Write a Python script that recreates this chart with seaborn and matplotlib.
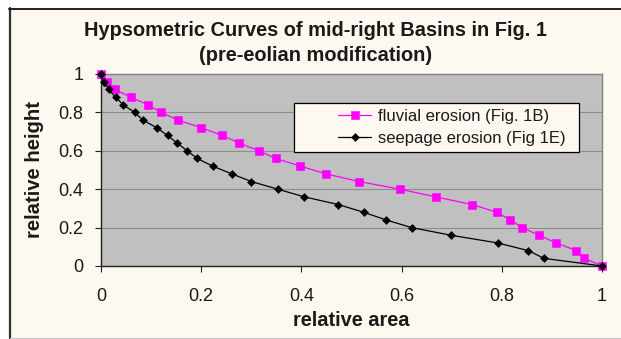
import numpy as np
import pandas as pd
import matplotlib
matplotlib.use("Agg")
import matplotlib.pyplot as plt
from matplotlib.patches import Rectangle
from matplotlib.lines import Line2D
import seaborn as sns

# Hypsometric curve samples (relative area vs. relative height)
fluvial_area = [0.000, 0.011, 0.027, 0.059, 0.093, 0.120, 0.154, 0.200, 0.242,
                0.276, 0.315, 0.349, 0.398, 0.449, 0.515, 0.597, 0.668, 0.741,
                0.790, 0.817, 0.841, 0.874, 0.909, 0.949, 0.965, 1.000]
fluvial_height = [1.00, 0.96, 0.92, 0.88, 0.84, 0.80, 0.76, 0.72, 0.68, 0.64,
                  0.60, 0.56, 0.52, 0.48, 0.44, 0.40, 0.36, 0.32, 0.28, 0.24,
                  0.20, 0.16, 0.12, 0.08, 0.04, 0.00]

seepage_area = [0.000, 0.006, 0.015, 0.029, 0.044, 0.067, 0.084, 0.111, 0.133,
                0.152, 0.172, 0.192, 0.223, 0.261, 0.300, 0.353, 0.406, 0.474,
                0.524, 0.569, 0.620, 0.699, 0.792, 0.853, 0.884, 1.000]
seepage_height = [1.00, 0.96, 0.92, 0.88, 0.84, 0.80, 0.76, 0.72, 0.68, 0.64,
                  0.60, 0.56, 0.52, 0.48, 0.44, 0.40, 0.36, 0.32, 0.28, 0.24,
                  0.20, 0.16, 0.12, 0.08, 0.04, 0.00]

series_labels = ["fluvial erosion (Fig. 1B)", "seepage erosion (Fig 1E)"]
x_ticks = [0, 0.2, 0.4, 0.6, 0.8, 1]
x_tick_labels = ["0", "0.2", "0.4", "0.6", "0.8", "1"]
y_ticks = [0, 0.2, 0.4, 0.6, 0.8, 1]
y_tick_labels = ["0", "0.2", "0.4", "0.6", "0.8", "1"]
title_lines = ["Hypsometric Curves of mid-right Basins in Fig. 1",
               "(pre-eolian modification)"]

sns.set_theme(style="white")
plt.rcParams["font.family"] = ["Liberation Sans", "DejaVu Sans"]

W, H = 621, 339
fig = plt.figure(figsize=(W / 100, H / 100), dpi=100)
fig.patch.set_facecolor("white")

CREAM = "#FDF8F0"
INK = "#1A1A1A"

def fx(px):
    return px / W

def fy(py):
    return 1 - py / H

# chart area panel with dark top/left edges
fig.patches.append(Rectangle((fx(10), fy(338)), fx(W - 10), (328) / H,
                             transform=fig.transFigure, facecolor=CREAM,
                             edgecolor="none", zorder=-2))
fig.lines.append(Line2D([fx(9.5), fx(9.5)], [fy(8), fy(339)], transform=fig.transFigure,
                        color="#303030", lw=1.6, zorder=-1))
fig.lines.append(Line2D([fx(9), 1], [fy(8.5), fy(8.5)], transform=fig.transFigure,
                        color="#202020", lw=1.4, zorder=-1))
fig.lines.append(Line2D([fx(10), 1], [fy(338), fy(338)], transform=fig.transFigure,
                        color="#C8C8C8", lw=1.0, zorder=-1))

# plot area
x0, x1, y0, y1 = 101, 602, 74, 266
ax = fig.add_axes([fx(x0), fy(y1), (x1 - x0) / W, (y1 - y0) / H])
ax.set_zorder(1)
ax.set_facecolor("#C0C0C0")

df_f = pd.DataFrame({"area": fluvial_area, "height": fluvial_height})
df_s = pd.DataFrame({"area": seepage_area, "height": seepage_height})

sns.lineplot(data=df_f, x="area", y="height", sort=False, estimator=None, ax=ax,
             color="#FF00FF", lw=0.9, marker="s", markersize=6.0,
             markeredgecolor="#FF00FF", markeredgewidth=0.4,
             label=series_labels[0], zorder=3, clip_on=False)
sns.lineplot(data=df_s, x="area", y="height", sort=False, estimator=None, ax=ax,
             color="black", lw=0.9, marker="D", markersize=4.0,
             markeredgecolor="black", markeredgewidth=0.4,
             label=series_labels[1], zorder=4, clip_on=False)

ax.set_xlim(0, 1)
ax.set_ylim(0, 1)
ax.set_xticks(x_ticks)
ax.set_xticklabels(x_tick_labels)
ax.set_yticks(y_ticks)
ax.set_yticklabels(y_tick_labels)
ax.set_xlabel("")
ax.set_ylabel("")

for yv in y_ticks[1:-1]:
    ax.axhline(yv, color="#8C8C8C", lw=0.8, zorder=1)

for side in ["top", "right"]:
    ax.spines[side].set_color("#808080")
    ax.spines[side].set_linewidth(1.0)
for side in ["left", "bottom"]:
    ax.spines[side].set_color("#202020")
    ax.spines[side].set_linewidth(1.0)

ax.tick_params(axis="both", which="major", direction="out", length=4.5, width=0.8,
               color="#202020", labelsize=13, labelcolor=INK,
               left=True, bottom=True)
ax.tick_params(axis="y", pad=8.0)
ax.tick_params(axis="x", pad=11.0)

# legend box and entries
fig.patches.append(Rectangle((fx(294), fy(152)), (579 - 294) / W, (152 - 103) / H,
                             transform=fig.transFigure, facecolor=CREAM,
                             edgecolor="black", lw=0.9, zorder=5))
ax.get_legend().remove()
handles, labels = ax.get_legend_handles_labels()
leg = fig.legend(handles, labels, loc="upper left",
                 bbox_to_anchor=(fx(338), fy(108.5)), frameon=False,
                 fontsize=12, handlelength=2.0, handletextpad=0.4,
                 labelspacing=0.45, borderpad=0, borderaxespad=0)
leg.set_zorder(6)
for t in leg.get_texts():
    t.set_color(INK)

# titles and axis labels
fig.text(fx(315.5), fy(31), title_lines[0], ha="center", va="center",
         fontsize=14.4, fontweight="bold", color=INK)
fig.text(fx(316), fy(55.5), title_lines[1], ha="center", va="center",
         fontsize=14.4, fontweight="bold", color=INK)
fig.text(fx(351.5), fy(321), "relative area", ha="center", va="center",
         fontsize=14.4, fontweight="bold", color=INK)
fig.text(fx(34.5), fy(170), "relative height", ha="center", va="center",
         rotation=90, fontsize=14.6, fontweight="bold", color=INK)

fig.savefig("out.png", dpi=100, facecolor=fig.get_facecolor())
